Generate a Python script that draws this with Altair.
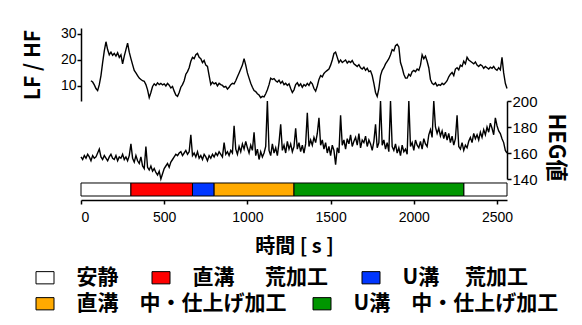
import altair as alt
import pandas as pd

# ---------------- data ----------------
# LF/HF, one value every 10 s starting at 60 s
lf_start = 60
lf_step = 10
lf_values = [
    12, 11.5, 10.4, 9, 8.2, 10.5, 14, 19, 23.5, 27,
    24, 22, 23, 21.8, 22.5, 21.5, 22.8, 21, 22, 18.5,
    21.5, 24, 26.5, 23, 20.5, 18.2, 16, 15, 14, 13,
    12.5, 12, 11.8, 10.5, 8.5, 5.5, 7.5, 9.8, 10.8, 10.2,
    11.2, 10.5, 11, 10.4, 10.8, 10, 11, 10.3, 9.2, 9.8,
    8, 6.5, 6, 7.5, 9.5, 10.5, 12, 14.5, 15.5, 17,
    19.5, 21, 20.5, 22, 22.5, 21, 20.5, 19, 19.8, 18,
    17.5, 14, 10.5, 11.5, 10.8, 11.2, 10, 11, 10.5, 10.2,
    9.5, 9.8, 8.8, 9.5, 10.5, 11, 10.8, 12, 13.5, 15,
    16.5, 18, 20.5, 18, 15, 13, 11, 9.5, 8.2, 7.8,
    7, 6.5, 5.5, 6, 5.8, 7, 8.5, 10.5, 13, 12.5,
    12.8, 12, 11.5, 12.2, 11, 11.8, 10.5, 11, 10.2, 10.8,
    9, 7.5, 8.5, 10.5, 11.2, 10, 10.8, 9.5, 10.5, 10,
    11, 10.2, 11.5, 10.8, 9, 8, 10, 12.5, 14, 13.5,
    14.8, 15.5, 16, 16.5, 18, 20, 22.5, 23, 21, 19,
    20, 19, 19.5, 20, 18.8, 19.5, 19, 19.8, 18.5, 18,
    17.5, 18.2, 17, 16.5, 17.2, 16, 16.8, 15.5, 15.8, 14,
    11, 7.5, 6, 9, 14, 16, 17, 18.5, 19.5, 20.5,
    22, 24, 23.5, 25.5, 26, 25, 19, 17, 14.5, 13,
    13, 14.5, 13.8, 15.5, 16, 15.5, 16.5, 16, 18, 22,
    20.5, 21.5, 19.5, 17, 12.5, 11, 10.5, 11.2, 10, 10.5,
    10.2, 11, 10.5, 11.2, 12, 13.5, 14.5, 15.2, 14, 16.5,
    17, 16.2, 18, 17.5, 19.5, 18.5, 21, 20, 19.5, 19,
    18.5, 19.2, 18, 17.5, 18.2, 17.8, 16.8, 17.5, 17, 16.5,
    17.2, 16.8, 17.5, 16.5, 16, 17, 16.2, 21, 15, 11, 9,
]

# HEG value, one value every 10 s starting at 0 s
heg_start = 0
heg_step = 10
heg_values = [
    157, 155, 158, 156, 159, 157, 154, 158, 156, 157,
    160, 163, 157, 155, 158, 156, 154, 157, 159, 156,
    155, 158, 154, 157, 156, 159, 155, 157, 154, 158,
    167, 156, 153, 158, 154, 152, 157, 150, 148, 165,
    149, 147, 150, 146, 148, 145, 143, 146, 140, 144,
    148, 150, 152, 149, 153, 155, 157, 159, 158, 160,
    161, 158, 160, 162, 159, 161, 174, 158, 160, 157,
    161, 156, 158, 155, 159, 157, 154, 158, 156, 159,
    157, 160, 158, 161, 159, 157, 168, 159, 161, 158,
    162, 160, 181, 163, 159, 165, 161, 167, 163, 169,
    164, 160, 166, 162, 176, 158, 163, 155, 161, 157,
    160, 165, 200, 162, 158, 167, 160, 164, 158, 168,
    182, 162, 166, 160, 169, 163, 167, 161, 165, 179,
    163, 168, 161, 166, 160, 167, 191, 165, 170, 166,
    172, 168, 175, 187, 166, 170, 163, 168, 160, 165,
    158, 166, 162, 151, 164, 160, 189, 166, 170, 163,
    171, 167, 174, 165, 169, 172, 166, 175, 164, 170,
    168, 173, 165, 170, 167, 162, 169, 182, 164, 168,
    200, 166, 170, 163, 168, 161, 200, 165, 162, 167,
    160, 164, 158, 166, 161, 163, 159, 200, 165, 168,
    162, 170, 166, 164, 169, 163, 171, 167, 165, 174,
    178, 172, 200, 180, 175, 179, 173, 177, 171, 176,
    170, 175, 168, 173, 166, 171, 189, 165, 163, 168,
    162, 166, 164, 169, 172, 168, 175, 171, 174, 170,
    176, 172, 178, 174, 180, 176, 183, 179, 174, 187,
    181, 177, 175, 171, 168, 162, 160,
]

# machining phases
NB = "\u00a0"
ZS = "\u3000"
lbl_rest = "安静"
lbl_st_rough = NB + "直溝" + ZS + NB + NB + "荒加工"
lbl_u_rough = "U溝" + ZS + NB + "荒加工"
lbl_st_fin = "直溝" + ZS + "中・仕上げ加工"
lbl_u_fin = "U溝" + ZS + "中・仕上げ加工"

phase_names = [lbl_rest, lbl_st_rough, lbl_u_rough, lbl_st_fin, lbl_u_fin, lbl_rest]
phase_start = [0, 300, 670, 800, 1280, 2300]
phase_end = [300, 670, 800, 1280, 2300, 2560]

legend_row1 = [lbl_rest, lbl_st_rough, lbl_u_rough]
colors_row1 = ["#ffffff", "#ff0000", "#0036ff"]
legend_row2 = [lbl_st_fin, lbl_u_fin]
colors_row2 = ["#ffaa00", "#009600"]

x_ticks = [0, 500, 1000, 1500, 2000, 2500]
lf_ticks = [10, 20, 30]
heg_ticks = [140, 160, 180, 200]

# ---------------- tables ----------------
lf_df = pd.DataFrame({"t": [lf_start + lf_step * i for i in range(len(lf_values))], "v": lf_values})
heg_df = pd.DataFrame({"t": [heg_start + heg_step * i for i in range(len(heg_values))], "v": heg_values})
phase_df = pd.DataFrame({"name": phase_names, "start": phase_start, "end": phase_end,
                         "lane": ["phase"] * len(phase_names)})

LAT = "Liberation Sans"
JP = "Noto Sans CJK JP"
W = 426
xs = alt.Scale(domain=[0, 2560], nice=False, zero=False)

top = alt.Chart(lf_df).mark_line(color="black", strokeWidth=1.4).encode(
    x=alt.X("t:Q", scale=xs, axis=None),
    y=alt.Y("v:Q", scale=alt.Scale(domain=[4.2, 32.3], nice=False, zero=False),
            axis=alt.Axis(values=lf_ticks, title="LF / HF", orient="left",
                          tickSize=4, labelPadding=1, titlePadding=17,
                          titleFont=JP, titleFontSize=21, titleFontWeight="bold",
                          labelFont=LAT, labelFontSize=14, grid=False)),
).properties(width=W, height=73)

mid = alt.Chart(heg_df).mark_line(color="black", strokeWidth=1.4).encode(
    x=alt.X("t:Q", scale=xs, axis=None),
    y=alt.Y("v:Q", scale=alt.Scale(domain=[140, 200], nice=False, zero=False),
            axis=alt.Axis(values=heg_ticks, title="HEG値", orient="right",
                          tickSize=4, labelPadding=1, titlePadding=6, titleY=46,
                          titleFont=JP, titleFontSize=22, titleFontWeight="bold",
                          labelFont=LAT, labelFontSize=15, grid=False)),
).properties(width=W, height=78)

x_axis = alt.Axis(values=x_ticks, format="d", title="時間 [ s ]", offset=4, tickSize=4,
                  labelPadding=6, titlePadding=12, labelFont=LAT, labelFontSize=14,
                  titleFont=JP, titleFontSize=20, titleFontWeight="bold", grid=False)
lane_y = alt.Y("lane:N", scale=alt.Scale(paddingOuter=0.1538, paddingInner=0, align=1), axis=None)


def legend_for(x, y, pad):
    return alt.Legend(orient="none", legendX=x, legendY=y, direction="horizontal",
                      title=None, padding=0,
                      symbolType="M-1,-0.68L1,-0.68L1,0.68L-1,0.68Z",
                      symbolSize=324, symbolStrokeColor="black",
                      symbolStrokeWidth=1, symbolOpacity=1,
                      labelFont=JP, labelFontSize=21, labelFontWeight="bold",
                      labelOffset=21, labelLimit=400, columnPadding=pad,
                      labelColor="black")


base = alt.Chart(phase_df).mark_rect(stroke="black", strokeWidth=1, opacity=1)

bar1 = base.transform_filter(
    alt.FieldOneOfPredicate(field="name", oneOf=legend_row1)
).encode(
    x=alt.X("start:Q", scale=xs, axis=x_axis),
    x2="end:Q",
    y=lane_y,
    color=alt.Color("name:N", scale=alt.Scale(domain=legend_row1, range=colors_row1),
                    legend=legend_for(-46.5, 239, 31)),
)

bar2 = base.transform_filter(
    alt.FieldOneOfPredicate(field="name", oneOf=legend_row2)
).encode(
    x=alt.X("start:Q", scale=xs, axis=x_axis),
    x2="end:Q",
    y=lane_y,
    fill=alt.Fill("name:N", scale=alt.Scale(domain=legend_row2, range=colors_row2),
                  legend=legend_for(-46.5, 265, 24)),
)

bar = alt.layer(bar1, bar2).properties(width=W, height=17)

chart = alt.vconcat(top, mid, bar, spacing=0, bounds="flush").properties(
    padding={"left": 14, "top": 18, "right": 6, "bottom": 2}
).configure_view(stroke=None).configure_axis(
    domainColor="black", tickColor="black", labelColor="black", titleColor="black",
    domainWidth=1.5, tickWidth=1.5
)

chart.save("out.html", embed_options={"renderer": "svg", "actions": False})
